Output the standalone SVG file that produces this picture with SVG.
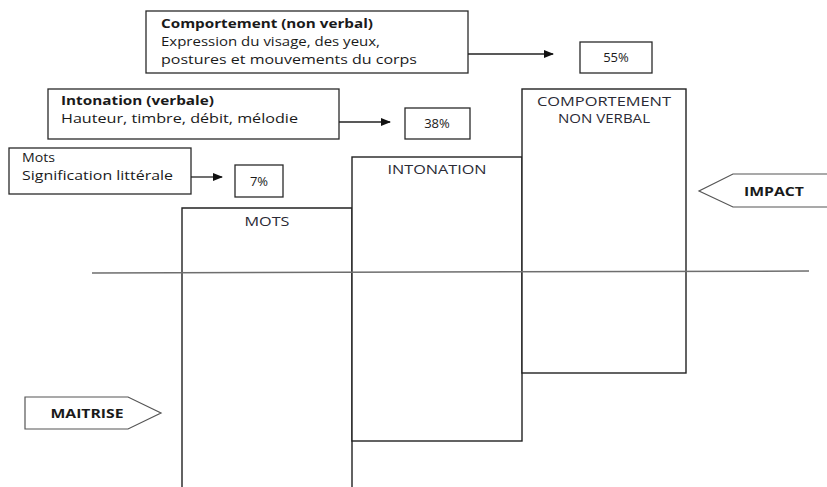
<svg xmlns="http://www.w3.org/2000/svg" width="827" height="487" viewBox="0 0 827 487">
<defs>
<style>
.box{fill:#fff;stroke:#2a2a2a;stroke-width:1.3}
.col{fill:#fff;stroke:#222;stroke-width:1.4}
.t{font-family:"Open Sans","Liberation Sans",Arial,sans-serif;font-size:13px;fill:#1a1a1a}
.b{font-weight:bold}
.c{font-family:"Open Sans","Liberation Sans",Arial,sans-serif;font-size:12px;fill:#2a2a35;text-anchor:middle}
.tag{fill:#fff;stroke:#555;stroke-width:1.2}
.conn{stroke:#222;stroke-width:1.3;fill:none}
</style>
<marker id="ah" markerWidth="10" markerHeight="8" refX="9" refY="4" orient="auto" markerUnits="userSpaceOnUse">
<path d="M0,0 L10,4 L0,8 Z" fill="#111"/>
</marker>
</defs>
<rect width="827" height="487" fill="#fff"/>

<g id="col-mots">
<path class="col" d="M182,487 L182,208 L352,208 L352,487"/>
<text class="c" x="267" y="226" textLength="45" lengthAdjust="spacingAndGlyphs">MOTS</text>
</g>
<g id="col-intonation">
<rect class="col" x="352" y="157" width="170" height="284"/>
<text class="c" x="437" y="174" textLength="99" lengthAdjust="spacingAndGlyphs">INTONATION</text>
</g>
<g id="col-comportement">
<rect class="col" x="522" y="89" width="164" height="284"/>
<text class="c" x="604" y="106" textLength="134" lengthAdjust="spacingAndGlyphs">COMPORTEMENT</text>
<text class="c" x="604" y="123" textLength="92" lengthAdjust="spacingAndGlyphs">NON VERBAL</text>
</g>

<g id="axis">
<line x1="92" y1="273" x2="809" y2="271" stroke="#6e6e6e" stroke-width="1.5"/>
</g>

<g id="box-comportement">
<rect class="box" x="146" y="11" width="322" height="62"/>
<text class="t b" x="161" y="28" textLength="212" lengthAdjust="spacingAndGlyphs">Comportement (non verbal)</text>
<text class="t" x="161" y="46" textLength="219" lengthAdjust="spacingAndGlyphs">Expression du visage, des yeux,</text>
<text class="t" x="161" y="64" textLength="256" lengthAdjust="spacingAndGlyphs">postures et mouvements du corps</text>
</g>
<g id="pct-55">
<rect class="box" x="580" y="42" width="72" height="31"/>
<text class="t" x="616" y="62" text-anchor="middle">55%</text>
</g>

<g id="box-intonation">
<rect class="box" x="48" y="89" width="291" height="50"/>
<text class="t b" x="61" y="105" textLength="153" lengthAdjust="spacingAndGlyphs">Intonation (verbale)</text>
<text class="t" x="61" y="123" textLength="237" lengthAdjust="spacingAndGlyphs">Hauteur, timbre, débit, mélodie</text>
</g>
<g id="pct-38">
<rect class="box" x="405" y="108" width="65" height="31"/>
<text class="t" x="437" y="128" text-anchor="middle">38%</text>
</g>

<g id="box-mots">
<rect class="box" x="9" y="148" width="182" height="46"/>
<text class="t" x="22" y="162" textLength="33" lengthAdjust="spacingAndGlyphs">Mots</text>
<text class="t" x="22" y="180" textLength="151" lengthAdjust="spacingAndGlyphs">Signification littérale</text>
</g>
<g id="pct-7">
<rect class="box" x="235" y="165" width="48" height="32"/>
<text class="t" x="259" y="186" text-anchor="middle">7%</text>
</g>

<g id="tag-impact">
<path class="tag" d="M828,174 L733,174 L699,191 L733,207 L828,207"/>
<text class="t b" x="774" y="196" text-anchor="middle" textLength="60" lengthAdjust="spacingAndGlyphs">IMPACT</text>
</g>
<g id="tag-maitrise">
<path class="tag" d="M25,397 L128,397 L161,413 L128,429 L25,429 Z"/>
<text class="t b" x="87" y="418" text-anchor="middle" textLength="73" lengthAdjust="spacingAndGlyphs">MAITRISE</text>
</g>

<g id="connectors">
<line class="conn" x1="468" y1="54" x2="553" y2="54" marker-end="url(#ah)"/>
<line class="conn" x1="339" y1="122" x2="390" y2="122" marker-end="url(#ah)"/>
<line class="conn" x1="191" y1="177" x2="222" y2="177" marker-end="url(#ah)"/>
</g>
</svg>
